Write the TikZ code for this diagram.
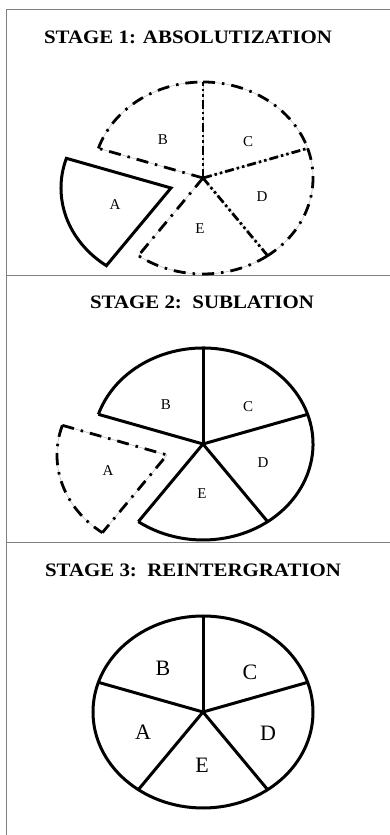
\documentclass[tikz,border=0pt]{standalone}
\usepackage{fontspec}
\setmainfont{Liberation Serif}
\begin{document}
\begin{tikzpicture}[x=1pt,y=1pt,
  frame/.style={draw=black!50, line width=1.2pt},
  rim/.style={line width=3pt, line join=miter, line cap=butt},
  ghost/.style={draw=black!25, line width=0.6pt},
  dashrim/.style={line width=2.8pt, dash pattern=on 12pt off 7pt on 2.5pt off 7pt},
  dashspoke/.style={line width=2.8pt, dash pattern=on 9pt off 3pt on 2.5pt off 3pt on 2.5pt off 3pt},
  title/.style={font=\bfseries\fontsize{19}{22}\selectfont, inner sep=0pt, xscale=1.1},
  lbl/.style={font=\fontsize{15}{18}\selectfont, inner sep=0pt},
  biglbl/.style={font=\fontsize{22}{26}\selectfont, inner sep=0pt},
  er/.style={x radius=110pt, y radius=96pt}]
\useasboundingbox (0,0) rectangle (390,835);

% panel frame
\draw[frame] (6.5,0) -- (6.5,825.5) -- (392,825.5);
\draw[frame] (6.5,559.5) -- (392,559.5);
\draw[frame] (6.5,292.5) -- (392,292.5);

% titles
\node[title] (t1) at (188,798) {STAGE 1: ABSOLUTIZATION};
\node[title] (t2) at (202,533) {STAGE 2:\ \ SUBLATION};
\node[title] (t3) at (193,265) {STAGE 3:\ \ REINTERGRATION};

% ---------- stage 1 ----------
\coordinate (c1) at (203,657);
\path (c1) ++(90:110pt and 96pt) coordinate (c1t)
      (c1) ++(18:110pt and 96pt) coordinate (c1ur)
      (c1) ++(-54:110pt and 96pt) coordinate (c1lr)
      (c1) ++(234:110pt and 96pt) coordinate (c1ll)
      (c1) ++(162:110pt and 96pt) coordinate (c1ul);
\path (c1) ++(-32,-10) coordinate (a1);
\path (a1) ++(234:110pt and 96pt) coordinate (a1ll)
      (a1) ++(162:110pt and 96pt) coordinate (a1ul);

% faint guide under the broken outline
\draw[ghost] (c1ul) arc[start angle=162, end angle=-126, er];
\foreach \p in {c1t,c1ur,c1lr,c1ll,c1ul} \draw[ghost] (c1) -- (\p);

\draw[dashrim] (c1ul) arc[start angle=162, end angle=90, er];
\draw[dashrim] (c1t) arc[start angle=90, end angle=18, er];
\draw[dashrim] (c1ur) arc[start angle=18, end angle=-54, er];
\draw[dashrim] (c1lr) arc[start angle=-54, end angle=-126, er];
\draw[dashspoke] (c1) -- (c1t);
\draw[dashspoke] (c1) -- (c1ur);
\draw[dashspoke] (c1) -- (c1lr);
\draw[dashrim] (c1) -- (c1ul);
\draw[dashrim] (c1) -- (c1ll);

% detached sector A
\draw[rim] (a1) -- (a1ll) arc[start angle=234, end angle=162, er] -- cycle;

\node[lbl] (b1) at (163,695) {B};
\node[lbl] (cc1) at (248,693) {C};
\node[lbl] (d1) at (262,638) {D};
\node[lbl] (e1) at (200,606) {E};
\node[lbl] (l1) at (115,630) {A};

% ---------- stage 2 ----------
\coordinate (c2) at (203,391);
\path (c2) ++(90:110pt and 96pt) coordinate (c2t)
      (c2) ++(18:110pt and 96pt) coordinate (c2ur)
      (c2) ++(-54:110pt and 96pt) coordinate (c2lr)
      (c2) ++(234:110pt and 96pt) coordinate (c2ll)
      (c2) ++(162:110pt and 96pt) coordinate (c2ul);
\path (c2) ++(-36,-11) coordinate (a2);
\path (a2) ++(234:110pt and 96pt) coordinate (a2ll)
      (a2) ++(162:110pt and 96pt) coordinate (a2ul);

\draw[rim] (c2ul) arc[start angle=162, end angle=-126, er];
\foreach \p in {c2t,c2ur,c2lr,c2ll,c2ul} \draw[rim] (c2) -- (\p);

% removed sector A, broken outline
\draw[ghost] (a2ul) -- (a2) -- (a2ll) arc[start angle=234, end angle=162, er];
\draw[dashrim] (a2ul) -- (a2) -- (a2ll);
\draw[dashrim] (a2ul) arc[start angle=162, end angle=234, er];

\node[lbl] (b2) at (166,430) {B};
\node[lbl] (cc2) at (248,428) {C};
\node[lbl] (d2) at (263,372) {D};
\node[lbl] (e2) at (202,341) {E};
\node[lbl] (l2) at (108,364) {A};

% ---------- stage 3 ----------
\coordinate (c3) at (203,123);
\path (c3) ++(90:110pt and 96pt) coordinate (c3t)
      (c3) ++(18:110pt and 96pt) coordinate (c3ur)
      (c3) ++(-54:110pt and 96pt) coordinate (c3lr)
      (c3) ++(234:110pt and 96pt) coordinate (c3ll)
      (c3) ++(162:110pt and 96pt) coordinate (c3ul);
\draw[rim] (c3) ellipse[er];
\foreach \p in {c3t,c3ur,c3lr,c3ll,c3ul} \draw[rim] (c3) -- (\p);

\node[biglbl] (b3) at (163,167) {B};
\node[biglbl] (cc3) at (250,163) {C};
\node[biglbl] (l3) at (143,103) {A};
\node[biglbl] (d3) at (268,102) {D};
\node[biglbl] (e3) at (202,70) {E};
\end{tikzpicture}
\end{document}
